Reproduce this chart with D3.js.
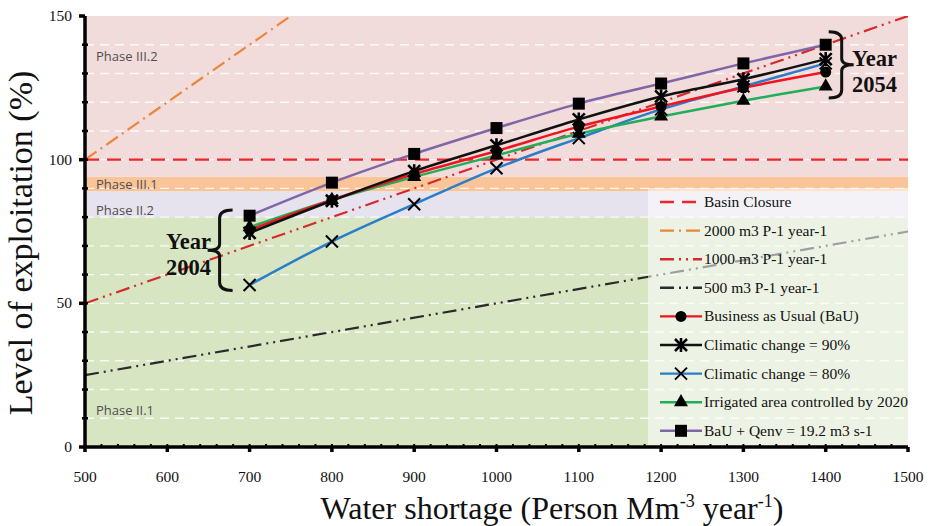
<!DOCTYPE html>
<html>
<head>
<meta charset="utf-8">
<script src="https://cdn.jsdelivr.net/npm/d3@7"></script>
<style>
  body { margin: 0; background: #fff; }
  text { font-family: "Liberation Serif", serif; }
</style>
</head>
<body>
<script>
// values
var shortage = [700, 800, 900, 1000, 1100, 1200, 1300, 1400]
var bau      = [75.5, 86, 95, 103, 111.5, 118.5, 125, 130.5]
var climate90 = [74.5, 85.7, 96, 105, 114, 122, 128, 135]
var climate80 = [56.4, 71.5, 84.5, 97, 107.5, 117.5, 125.5, 133.5]
var irrigated = [76.5, 86, 94, 101.5, 109, 115, 120.5, 125.5]
var qenv      = [80.5, 92, 102, 111, 119.5, 126.5, 133.5, 140]

// reference lines (end points at 500 and 1500)
var refX = [500, 1500]
var line2000 = [100, 300]
var line1000 = [50, 150]
var line500 = [25, 75]
var basinClosure = [100, 100]

var phaseNames = ["Phase II.1", "Phase II.2", "Phase III.1", "Phase III.2"]
var phaseLow   = [0, 80, 89, 94]
var phaseHigh  = [80, 89, 94, 150]
var phaseColors = ["#d8e5c3", "#e6e2ee", "#f9c497", "#f2dcdb"]

var xTicks = [500, 600, 700, 800, 900, 1000, 1100, 1200, 1300, 1400, 1500]
var yTicks = [0, 50, 100, 150]

var legendNames = ["Basin Closure", "2000 m3 P-1 year-1", "1000 m3 P-1 year-1", "500 m3 P-1 year-1",
  "Business as Usual (BaU)", "Climatic change = 90%", "Climatic change = 80%",
  "Irrigated area controlled by 2020", "BaU + Qenv = 19.2 m3 s-1"]

var width = 937, height = 526
var pLeft = 85, pRight = 908, pTop = 16, pBottom = 447

var svg = d3.select("body").append("svg")
    .attr("width", width)
    .attr("height", height)

var x = d3.scaleLinear().domain([500, 1500]).range([pLeft, pRight])
var y = d3.scaleLinear().domain([0, 150]).range([pBottom, pTop])

svg.append("clipPath").attr("id", "plotclip")
  .append("rect").attr("x", pLeft).attr("y", pTop).attr("width", pRight - pLeft).attr("height", pBottom - pTop)

var plot = svg.append("g").attr("clip-path", "url(#plotclip)")

// phase bands
phaseNames.forEach(function(name, i){
    plot.append("rect")
      .attr("x", pLeft).attr("width", pRight - pLeft)
      .attr("y", y(phaseHigh[i])).attr("height", y(phaseLow[i]) - y(phaseHigh[i]))
      .style("fill", phaseColors[i])
})

// white dashed grid every 10
d3.range(10, 150, 10).forEach(function(v){
    plot.append("line")
      .attr("x1", pLeft).attr("x2", pRight)
      .attr("y1", y(v)).attr("y2", y(v))
      .style("stroke", "#fff").style("stroke-width", 1.4)
      .style("stroke-dasharray", "9,6").style("opacity", 0.85)
})

// phase labels
var phaseLabelY = [13, 82.5, 91.5, 136]
phaseNames.forEach(function(name, i){
    svg.append("text")
      .attr("x", x(500) + 11).attr("y", y(phaseLabelY[i]) + 5)
      .text(name)
      .style("font-family", "'Open Sans', sans-serif")
      .style("font-size", "13px")
      .style("fill", "#4f4f4f")
})

var refLine = d3.line().x(function(d){ return x(d[0]) }).y(function(d){ return y(d[1]) })

var refs = [
  {vals: line1000, color: "#d42a2a", dash: "14,5,2,5,2,5"},
  {vals: line500, color: "#2a2a2a", dash: "14,5,2,5,2,5"},
  {vals: line2000, color: "#e8873a", dash: "14,5,2,5"},
  {vals: basinClosure, color: "#e8262b", dash: "14,8"}
]
refs.forEach(function(r){
    plot.append("path")
      .attr("d", refLine(refX.map(function(v, i){ return [v, r.vals[i]] })))
      .style("fill", "none").style("stroke", r.color)
      .style("stroke-width", 2.2).style("stroke-dasharray", r.dash)
})

// legend box (semi transparent)
var legX = 648, legTop = 188
svg.append("rect")
  .attr("x", legX).attr("y", legTop).attr("width", pRight - legX).attr("height", pBottom - legTop)
  .style("fill", "#fff").style("opacity", 0.55)

// markers
function drawMarker(g, type, cx, cy){
    if (type == "circle") {
        g.append("circle").attr("cx", cx).attr("cy", cy).attr("r", 5.5).style("fill", "#000")
    } else if (type == "square") {
        g.append("rect").attr("x", cx - 6).attr("y", cy - 6).attr("width", 12).attr("height", 12).style("fill", "#000")
    } else if (type == "triangle") {
        g.append("path").attr("d", d3.symbol().type(d3.symbolTriangle).size(85)())
          .attr("transform", "translate(" + cx + "," + cy + ")").style("fill", "#000")
    } else if (type == "x") {
        g.append("path").attr("d", "M-6,-6L6,6M-6,6L6,-6")
          .attr("transform", "translate(" + cx + "," + cy + ")")
          .style("stroke", "#000").style("stroke-width", 2)
    } else if (type == "star") {
        g.append("path").attr("d", "M-6,-6L6,6M-6,6L6,-6M0,-7L0,7")
          .attr("transform", "translate(" + cx + "," + cy + ")")
          .style("stroke", "#000").style("stroke-width", 2.6)
    }
}

var series = [
  {vals: climate80, color: "#2a7dc9", marker: "x"},
  {vals: irrigated, color: "#1fae5a", marker: "triangle"},
  {vals: bau, color: "#f0141e", marker: "circle"},
  {vals: climate90, color: "#111", marker: "star"},
  {vals: qenv, color: "#8066a6", marker: "square"}
]

var smooth = d3.line()
    .x(function(d){ return x(d[0]) })
    .y(function(d){ return y(d[1]) })
    .curve(d3.curveCatmullRom.alpha(0.5))

series.forEach(function(s){
    svg.append("path")
      .attr("d", smooth(shortage.map(function(v, i){ return [v, s.vals[i]] })))
      .style("fill", "none").style("stroke", s.color).style("stroke-width", 2.5)
})
series.forEach(function(s){
    var g = svg.append("g")
    shortage.forEach(function(v, i){ drawMarker(g, s.marker, x(v), y(s.vals[i])) })
})

// legend entries
var legendStyles = [
  {color: "#e8262b", dash: "14,8", marker: null},
  {color: "#e8873a", dash: "14,5,2,5", marker: null},
  {color: "#d42a2a", dash: "14,5,2,5,2,5", marker: null},
  {color: "#2a2a2a", dash: "14,5,2,5,2,5", marker: null},
  {color: "#f0141e", dash: null, marker: "circle"},
  {color: "#111", dash: null, marker: "star"},
  {color: "#2a7dc9", dash: null, marker: "x"},
  {color: "#1fae5a", dash: null, marker: "triangle"},
  {color: "#8066a6", dash: null, marker: "square"}
]
legendNames.forEach(function(name, i){
    var ly = 202 + i * 28.6
    var g = svg.append("g")
    g.append("line").attr("x1", 660).attr("x2", 702).attr("y1", ly).attr("y2", ly)
      .style("stroke", legendStyles[i].color).style("stroke-width", 2.4)
      .style("stroke-dasharray", legendStyles[i].dash)
    if (legendStyles[i].marker) drawMarker(g, legendStyles[i].marker, 681, ly)
    g.append("text").attr("x", 704).attr("y", ly + 5).text(name)
      .style("font-size", "15.5px").style("fill", "#111")
})

// year annotations
function brace(x0, yTop, yBot, dir){
    var yMid = (yTop + yBot) / 2
    var w = 13 * dir, t = 12 * dir
    return "M" + (x0 + w) + "," + yTop +
      "Q" + x0 + "," + yTop + " " + x0 + "," + (yTop + 8) +
      "L" + x0 + "," + (yMid - 6) +
      "Q" + x0 + "," + yMid + " " + (x0 - t) + "," + yMid +
      "Q" + x0 + "," + yMid + " " + x0 + "," + (yMid + 6) +
      "L" + x0 + "," + (yBot - 8) +
      "Q" + x0 + "," + yBot + " " + (x0 + w) + "," + yBot
}
svg.append("path").attr("d", brace(x(700) - 30, y(82.5), y(54.5), 1))
  .style("fill", "none").style("stroke", "#111").style("stroke-width", 3)
svg.append("path").attr("d", brace(x(1400) + 16, y(144.5), y(121.5), -1))
  .style("fill", "none").style("stroke", "#111").style("stroke-width", 3)

var yearTexts = [
  {t: "Year", x: 166, y: 249}, {t: "2004", x: 166, y: 275},
  {t: "Year", x: 852, y: 66}, {t: "2054", x: 852, y: 92}
]
yearTexts.forEach(function(d){
    svg.append("text").attr("x", d.x).attr("y", d.y).text(d.t)
      .style("font-size", "22.5px").style("font-weight", "bold").style("fill", "#111")
})

// axes
var ax = svg.append("g")
ax.append("line").attr("x1", pLeft).attr("x2", pRight).attr("y1", pBottom).attr("y2", pBottom)
  .style("stroke", "#000").style("stroke-width", 3.5)
ax.append("line").attr("x1", pLeft).attr("x2", pLeft).attr("y1", pTop).attr("y2", pBottom)
  .style("stroke", "#000").style("stroke-width", 3.5)

d3.range(520, 1500, 20).forEach(function(v){
    ax.append("line").attr("x1", x(v)).attr("x2", x(v)).attr("y1", pBottom - 3).attr("y2", pBottom)
      .style("stroke", "#000").style("stroke-width", 2)
})
d3.range(10, 150, 10).forEach(function(v){
    ax.append("line").attr("x1", pLeft - 3).attr("x2", pLeft + 3).attr("y1", y(v)).attr("y2", y(v))
      .style("stroke", "#000").style("stroke-width", 2.5)
})
xTicks.forEach(function(v){
    ax.append("line").attr("x1", x(v)).attr("x2", x(v)).attr("y1", pBottom).attr("y2", pBottom + 5)
      .style("stroke", "#000").style("stroke-width", 3.5)
    ax.append("text").attr("x", x(v)).attr("y", 482).attr("text-anchor", "middle")
      .text(v).style("font-size", "15.5px").style("fill", "#111")
})
yTicks.forEach(function(v){
    ax.append("line").attr("x1", pLeft - 6).attr("x2", pLeft).attr("y1", y(v)).attr("y2", y(v))
      .style("stroke", "#000").style("stroke-width", 3.5)
    ax.append("text").attr("x", 72).attr("y", y(v) + 5).attr("text-anchor", "end")
      .text(v).style("font-size", "15.5px").style("fill", "#111")
})

// axis titles
var xt = svg.append("text").attr("x", 552).attr("y", 519).attr("text-anchor", "middle")
  .style("font-size", "32px").style("fill", "#111")
xt.append("tspan").text("Water shortage (Person Mm")
xt.append("tspan").text("-3").attr("dy", -12).style("font-size", "18px")
xt.append("tspan").text(" year").attr("dy", 12)
xt.append("tspan").text("-1").attr("dy", -12).style("font-size", "18px")
xt.append("tspan").text(")").attr("dy", 12)

svg.append("text")
  .attr("transform", "translate(32," + 243 + ") rotate(-90)")
  .attr("text-anchor", "middle")
  .text("Level of exploitation (%)")
  .style("font-size", "34px").style("fill", "#111")
</script>
</body>
</html>
